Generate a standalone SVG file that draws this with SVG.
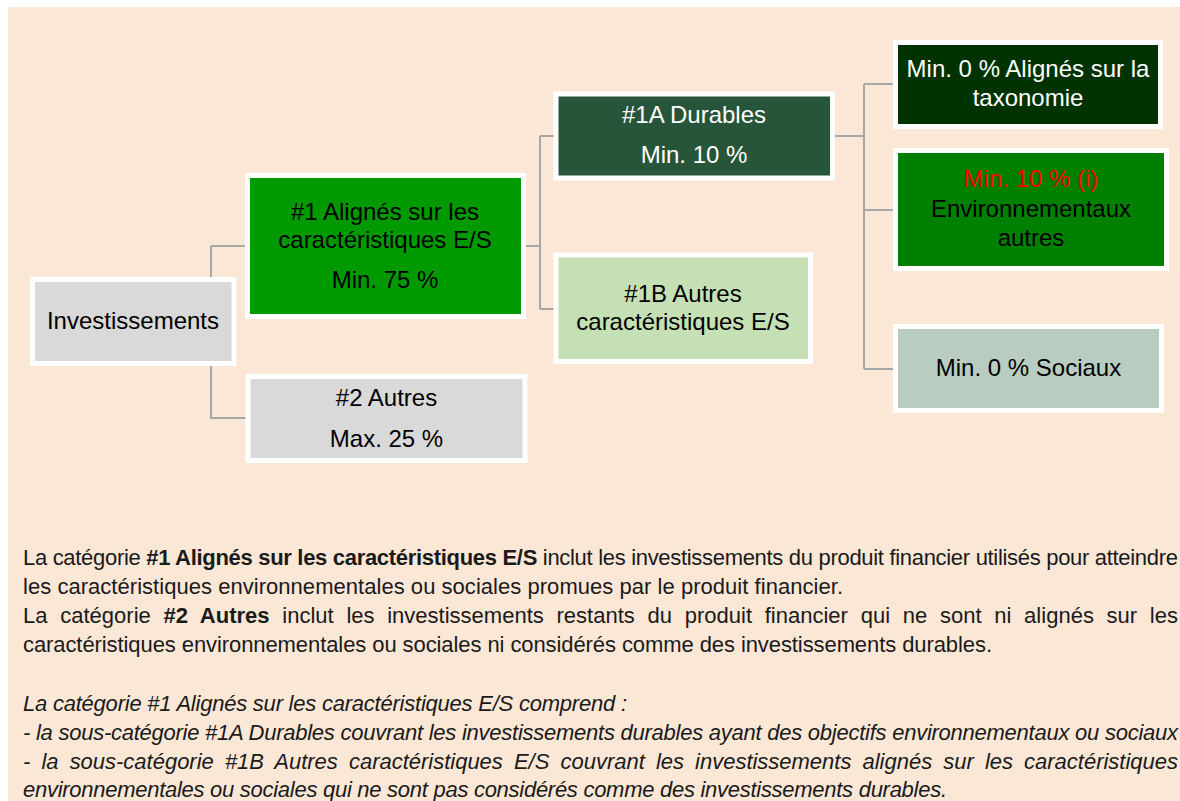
<svg xmlns="http://www.w3.org/2000/svg" width="1180" height="801" viewBox="0 0 1180 801">
<style>
.bx{stroke:#ffffff;stroke-width:5}
.t{font-family:"Liberation Sans",Arial,sans-serif;font-size:24px;text-anchor:middle;fill:#000}
.w{fill:#ffffff}
.p{font-family:"Liberation Sans",Arial,sans-serif;font-size:22px;fill:#1a1a1a}
.i{font-style:italic}
.b{font-weight:bold}
.c{fill:none;stroke:#a6a6a6;stroke-width:2}
</style>
<rect x="0" y="0" width="1180" height="801" fill="#ffffff"/>
<rect x="8" y="7" width="1172" height="794" fill="#fae7d6"/>
<g id="connectors">
<path class="c" d="M211,246 H246 M211,246 V418 H247"/>
<path class="c" d="M525,246 H540 M540,136 V309 M540,136 H555 M540,309 H555"/>
<path class="c" d="M833,136 H864 M864,84 V369 M864,84 H894 M864,210 H894 M864,369 H894"/>
</g>
<g id="investissements">
<rect class="bx" x="32.5" y="279.5" width="201.5" height="84" fill="#d9d9d9"/>
<text class="t" x="133" y="329">Investissements</text>
</g>
<g id="n1">
<rect class="bx" x="247.5" y="175.5" width="276" height="141" fill="#009900"/>
<text class="t" x="385" y="220">#1 Alignés sur les</text>
<text class="t" x="385" y="248">caractéristiques E/S</text>
<text class="t" x="385" y="288">Min. 75 %</text>
</g>
<g id="n2">
<rect class="bx" x="248" y="376.5" width="277" height="84" fill="#d9d9d9"/>
<text class="t" x="386.5" y="406">#2 Autres</text>
<text class="t" x="386.5" y="447">Max. 25 %</text>
</g>
<g id="n1a">
<rect class="bx" x="556" y="94" width="276.5" height="84" fill="#27553a"/>
<text class="t w" x="694" y="123">#1A Durables</text>
<text class="t w" x="694" y="163">Min. 10 %</text>
</g>
<g id="n1b">
<rect class="bx" x="556" y="255" width="254.5" height="106.5" fill="#c5e0b4"/>
<text class="t" x="683" y="302">#1B Autres</text>
<text class="t" x="683" y="330">caractéristiques E/S</text>
</g>
<g id="taxonomie">
<rect class="bx" x="895.5" y="42.5" width="265" height="84" fill="#003300"/>
<text class="t w" x="1028" y="77">Min. 0 % Alignés sur la</text>
<text class="t w" x="1028" y="106">taxonomie</text>
</g>
<g id="environnementaux">
<rect class="bx" x="895.5" y="150.5" width="271" height="118" fill="#008000"/>
<text class="t" x="1031" y="187" style="fill:#ff0000">Min. 10 % (i)</text>
<text class="t" x="1031" y="217">Environnementaux</text>
<text class="t" x="1031" y="246">autres</text>
</g>
<g id="sociaux">
<rect class="bx" x="895.5" y="326.5" width="266" height="84" fill="#b8ccc2"/>
<text class="t" x="1028.5" y="376">Min. 0 % Sociaux</text>
</g>
<g id="legend">
<text class="p" x="23" y="565" textLength="1155" lengthAdjust="spacing">La catégorie <tspan class="b">#1 Alignés sur les caractéristiques E/S</tspan> inclut les investissements du produit financier utilisés pour atteindre</text>
<text class="p" x="23" y="594" textLength="820" lengthAdjust="spacing">les caractéristiques environnementales ou sociales promues par le produit financier.</text>
<text class="p" x="23" y="623" word-spacing="6.6" textLength="1155" lengthAdjust="spacing">La catégorie <tspan class="b">#2 Autres</tspan> inclut les investissements restants du produit financier qui ne sont ni alignés sur les</text>
<text class="p" x="23" y="652" textLength="969" lengthAdjust="spacing">caractéristiques environnementales ou sociales ni considérés comme des investissements durables.</text>
<text class="p i" x="23" y="711" textLength="604" lengthAdjust="spacing">La catégorie #1 Alignés sur les caractéristiques E/S comprend :</text>
<text class="p i" x="23" y="740" textLength="1155" lengthAdjust="spacing">- la sous-catégorie #1A Durables couvrant les investissements durables ayant des objectifs environnementaux ou sociaux</text>
<text class="p i" x="23" y="769" word-spacing="5" textLength="1155" lengthAdjust="spacing">- la sous-catégorie #1B Autres caractéristiques E/S couvrant les investissements alignés sur les caractéristiques</text>
<text class="p i" x="23" y="797" textLength="924" lengthAdjust="spacing">environnementales ou sociales qui ne sont pas considérés comme des investissements durables.</text>
</g>
</svg>
